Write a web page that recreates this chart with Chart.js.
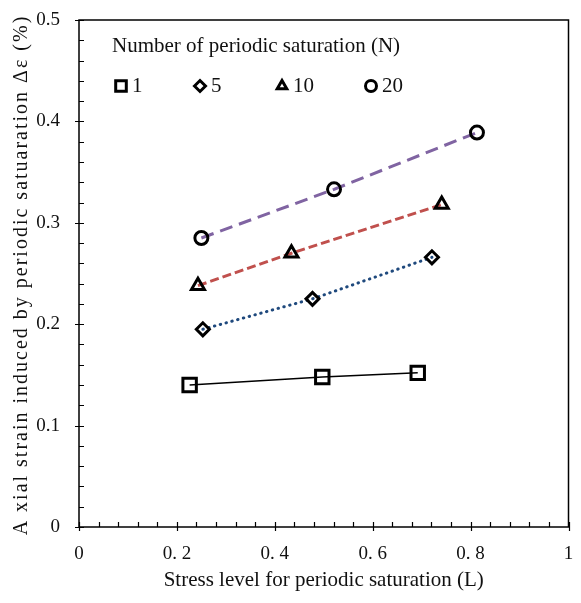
<!DOCTYPE html>
<html>
<head>
<meta charset="utf-8">
<script src="https://cdn.jsdelivr.net/npm/chart.js@4.4.1/dist/chart.umd.min.js"></script>
<style>
  html, body { margin: 0; padding: 0; background: #fff; }
  #wrap { width: 581px; height: 603px; position: relative; }
</style>
</head>
<body>
<div id="wrap"><canvas id="strainChart"></canvas></div>
<script>
// Values: stress level L and strain (%) for each N
const seriesNames = ['1', '5', '10', '20'];
const stressN1 = [0.226, 0.497, 0.692];
const strainN1 = [0.140, 0.148, 0.152];
const stressN5 = [0.253, 0.477, 0.721];
const strainN5 = [0.195, 0.225, 0.266];
const stressN10 = [0.243, 0.434, 0.741];
const strainN10 = [0.238, 0.270, 0.318];
const stressN20 = [0.250, 0.521, 0.813];
const strainN20 = [0.285, 0.333, 0.389];

const xTickLabels = ['0', '0. 2', '0. 4', '0. 6', '0. 8', '1'];
const yTickLabels = ['0', '0.1', '0.2', '0.3', '0.4', '0.5'];

const serif = "'Liberation Serif', 'Times New Roman', serif";

function toPoints(xs, ys) {
    return xs.map((x, i) => ({ x: x, y: ys[i] }));
}

// frame, inward minor ticks, axis titles and the legend block
const decorations = {
    id: 'decorations',
    beforeDatasetsDraw(chart) {
        const { ctx, chartArea: a, scales } = chart;
        ctx.save();
        ctx.strokeStyle = '#000';
        ctx.lineWidth = 1.5;
        ctx.strokeRect(a.left, a.top, a.right - a.left, a.bottom - a.top);

        ctx.lineWidth = 1.2;
        ctx.beginPath();
        for (let i = 0; i <= 25; i++) {
            const y = Math.round(scales.y.getPixelForValue(i * 0.02)) + 0.5;
            const major = i % 5 === 0;
            ctx.moveTo(a.left - (major ? 4 : 0), y);
            ctx.lineTo(a.left + 5, y);
        }
        for (let i = 0; i <= 25; i++) {
            const x = Math.round(scales.x.getPixelForValue(i * 0.04)) + 0.5;
            const major = i % 5 === 0;
            ctx.moveTo(x, a.bottom + (major ? 4 : 0));
            ctx.lineTo(x, a.bottom - 5);
        }
        ctx.stroke();
        ctx.restore();
    },
    afterDraw(chart) {
        const { ctx, chartArea: a } = chart;
        ctx.save();
        ctx.fillStyle = '#111';
        ctx.textBaseline = 'middle';

        // axis titles
        ctx.font = '21px ' + serif;
        ctx.textAlign = 'center';
        ctx.fillText('Stress level for periodic saturation (L)', (a.left + a.right) / 2, 580);
        ctx.save();
        ctx.font = '20px ' + serif;
        ctx.letterSpacing = '2px';
        ctx.translate(22, 275);
        ctx.rotate(-Math.PI / 2);
        ctx.fillText('A xial strain induced by periodic satuaration \u0394\u03b5 (%)', 0, 0);
        ctx.restore();

        // legend
        ctx.font = '21px ' + serif;
        ctx.textAlign = 'left';
        ctx.fillText('Number of periodic saturation (N)', 112, 46);
        const legendX = [121, 200, 282, 371];
        chart.data.datasets.forEach((ds, i) => {
            ctx.save();
            ctx.fillStyle = 'rgba(0,0,0,0)';
            ctx.strokeStyle = '#000';
            ctx.lineWidth = 3;
            Chart.helpers.drawPoint(ctx, {
                pointStyle: ds.pointStyle,
                radius: ds.pointStyle === 'rect' ? 7.5 : 5.5,
                borderWidth: 3
            }, legendX[i], 86);
            ctx.restore();
            ctx.fillText(seriesNames[i], legendX[i] + 11, 86);
        });
        ctx.restore();
    }
};

const markerCommon = {
    showLine: true,
    pointBackgroundColor: 'rgba(0,0,0,0)',
    pointBorderColor: '#000',
    pointBorderWidth: 3,
    pointHoverRadius: 7
};

new Chart(document.getElementById('strainChart'), {
    type: 'scatter',
    data: {
        datasets: [
            {
                ...markerCommon,
                label: seriesNames[0],
                data: toPoints(stressN1, strainN1),
                borderColor: '#000',
                borderWidth: 1.5,
                pointStyle: 'rect',
                pointRadius: 9.5
            },
            {
                ...markerCommon,
                label: seriesNames[1],
                data: toPoints(stressN5, strainN5),
                borderColor: '#1F497D',
                borderWidth: 3,
                borderDash: [0.5, 5.5],
                borderCapStyle: 'round',
                pointStyle: 'rectRot',
                pointRadius: 6.5
            },
            {
                ...markerCommon,
                label: seriesNames[2],
                data: toPoints(stressN10, strainN10),
                borderColor: '#C0504D',
                borderWidth: 3,
                borderDash: [9, 4],
                pointStyle: 'triangle',
                pointRadius: 7.5
            },
            {
                ...markerCommon,
                label: seriesNames[3],
                data: toPoints(stressN20, strainN20),
                borderColor: '#8064A2',
                borderWidth: 3,
                borderDash: [13, 7],
                pointStyle: 'circle',
                pointRadius: 6.5
            }
        ]
    },
    options: {
        responsive: true,
        maintainAspectRatio: false,
        animation: false,
        layout: { padding: { top: 20, right: 11, left: 0, bottom: 0 } },
        plugins: {
            legend: { display: false },
            tooltip: { enabled: false }
        },
        scales: {
            x: {
                type: 'linear',
                min: 0,
                max: 1,
                afterFit: (scale) => {
                    scale.height = 76;
                    scale.paddingLeft = 0;
                    scale.paddingRight = 0;
                },
                afterBuildTicks: (scale) => {
                    scale.ticks = xTickLabels.map((t, i) => ({ value: i * 0.2 }));
                },
                grid: { display: false },
                border: { display: false },
                ticks: {
                    padding: 8,
                    color: '#111',
                    font: { family: serif, size: 19 },
                    maxRotation: 0,
                    callback: (v, i) => xTickLabels[i]
                }
            },
            y: {
                type: 'linear',
                min: 0,
                max: 0.5,
                afterFit: (scale) => {
                    scale.width = 79;
                    scale.paddingTop = 0;
                    scale.paddingBottom = 0;
                },
                afterBuildTicks: (scale) => {
                    scale.ticks = yTickLabels.map((t, i) => ({ value: i * 0.1 }));
                },
                grid: { display: false },
                border: { display: false },
                ticks: {
                    padding: 11,
                    color: '#111',
                    font: { family: serif, size: 19 },
                    callback: (v, i) => yTickLabels[i]
                }
            }
        }
    },
    plugins: [decorations]
});
</script>
</body>
</html>
